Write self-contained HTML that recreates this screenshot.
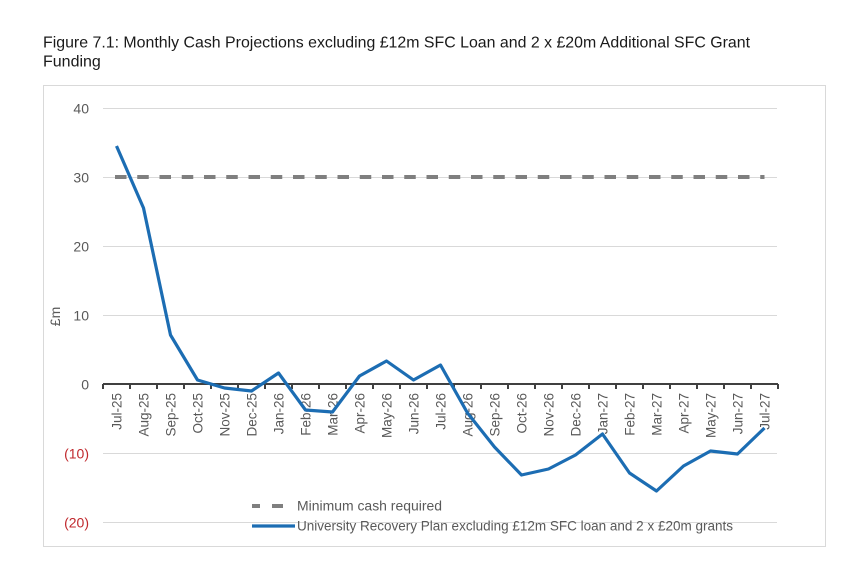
<!DOCTYPE html>
<html><head><meta charset="utf-8"><style>
html,body{margin:0;padding:0;background:#fff;}
svg{display:block;}
text{font-family:"Liberation Sans",Arial,sans-serif;}
</style></head><body>
<svg width="863" height="564" viewBox="0 0 863 564" xmlns="http://www.w3.org/2000/svg">
<rect width="863" height="564" fill="#fff"/>
<text x="43" y="47.5" font-size="16" fill="#1a1a1a" textLength="707" lengthAdjust="spacingAndGlyphs">Figure 7.1: Monthly Cash Projections excluding £12m SFC Loan and 2 x £20m Additional SFC Grant</text>
<text x="43" y="66.5" font-size="16" fill="#1a1a1a">Funding</text>
<rect x="43.5" y="85.5" width="782" height="461" fill="#fff" stroke="#d9d9d9" stroke-width="1"/>
<g stroke="#d9d9d9" stroke-width="1">
<line x1="103" y1="108.5" x2="777" y2="108.5"/>
<line x1="103" y1="177.5" x2="777" y2="177.5"/>
<line x1="103" y1="246.5" x2="777" y2="246.5"/>
<line x1="103" y1="315.5" x2="777" y2="315.5"/>
<line x1="103" y1="453.5" x2="777" y2="453.5"/>
<line x1="103" y1="522.5" x2="777" y2="522.5"/>
</g>
<g font-size="14" fill="#595959" text-anchor="end">
<text x="89" y="113.5">40</text>
<text x="89" y="182.5">30</text>
<text x="89" y="251.5">20</text>
<text x="89" y="320.5">10</text>
<text x="89" y="389.5">0</text>
<text x="89" y="458.5" fill="#c0282d">(10)</text>
<text x="89" y="527.5" fill="#c0282d">(20)</text>
</g>
<text transform="translate(60,316.5) rotate(-90)" font-size="14" fill="#595959" text-anchor="middle">£m</text>
<line x1="115" y1="177" x2="764.5" y2="177" stroke="#7f7f7f" stroke-width="4" stroke-dasharray="11.5 10.75"/>
<line x1="103" y1="384" x2="778" y2="384" stroke="#404040" stroke-width="2"/>
<g stroke="#404040" stroke-width="2">
<line x1="103" y1="384" x2="103" y2="389"/><line x1="130" y1="384" x2="130" y2="389"/><line x1="157" y1="384" x2="157" y2="389"/><line x1="184" y1="384" x2="184" y2="389"/><line x1="211" y1="384" x2="211" y2="389"/><line x1="238" y1="384" x2="238" y2="389"/><line x1="265" y1="384" x2="265" y2="389"/><line x1="292" y1="384" x2="292" y2="389"/><line x1="319" y1="384" x2="319" y2="389"/><line x1="346" y1="384" x2="346" y2="389"/><line x1="373" y1="384" x2="373" y2="389"/><line x1="400" y1="384" x2="400" y2="389"/><line x1="427" y1="384" x2="427" y2="389"/><line x1="454" y1="384" x2="454" y2="389"/><line x1="481" y1="384" x2="481" y2="389"/><line x1="508" y1="384" x2="508" y2="389"/><line x1="535" y1="384" x2="535" y2="389"/><line x1="562" y1="384" x2="562" y2="389"/><line x1="589" y1="384" x2="589" y2="389"/><line x1="616" y1="384" x2="616" y2="389"/><line x1="643" y1="384" x2="643" y2="389"/><line x1="670" y1="384" x2="670" y2="389"/><line x1="697" y1="384" x2="697" y2="389"/><line x1="724" y1="384" x2="724" y2="389"/><line x1="751" y1="384" x2="751" y2="389"/><line x1="778" y1="384" x2="778" y2="389"/>
</g>
<g font-size="13.5" fill="#595959" text-anchor="end">
<text transform="translate(121.5,393) rotate(-90)">Jul-25</text>
<text transform="translate(148.5,393) rotate(-90)">Aug-25</text>
<text transform="translate(175.5,393) rotate(-90)">Sep-25</text>
<text transform="translate(202.5,393) rotate(-90)">Oct-25</text>
<text transform="translate(229.5,393) rotate(-90)">Nov-25</text>
<text transform="translate(256.5,393) rotate(-90)">Dec-25</text>
<text transform="translate(283.5,393) rotate(-90)">Jan-26</text>
<text transform="translate(310.5,393) rotate(-90)">Feb-26</text>
<text transform="translate(337.5,393) rotate(-90)">Mar-26</text>
<text transform="translate(364.5,393) rotate(-90)">Apr-26</text>
<text transform="translate(391.5,393) rotate(-90)">May-26</text>
<text transform="translate(418.5,393) rotate(-90)">Jun-26</text>
<text transform="translate(445.5,393) rotate(-90)">Jul-26</text>
<text transform="translate(472.5,393) rotate(-90)">Aug-26</text>
<text transform="translate(499.5,393) rotate(-90)">Sep-26</text>
<text transform="translate(526.5,393) rotate(-90)">Oct-26</text>
<text transform="translate(553.5,393) rotate(-90)">Nov-26</text>
<text transform="translate(580.5,393) rotate(-90)">Dec-26</text>
<text transform="translate(607.5,393) rotate(-90)">Jan-27</text>
<text transform="translate(634.5,393) rotate(-90)">Feb-27</text>
<text transform="translate(661.5,393) rotate(-90)">Mar-27</text>
<text transform="translate(688.5,393) rotate(-90)">Apr-27</text>
<text transform="translate(715.5,393) rotate(-90)">May-27</text>
<text transform="translate(742.5,393) rotate(-90)">Jun-27</text>
<text transform="translate(769.5,393) rotate(-90)">Jul-27</text>
</g>
<polyline fill="none" stroke="#1c6db3" stroke-width="3.2" stroke-linejoin="round" stroke-linecap="butt" points="116.5,146 143.5,208 170.5,335 197.5,380 224.5,388 251.5,391 278.5,373 305.5,410 332.5,412 359.5,376 386.5,361 413.5,380 440.5,365 467.5,413 494.5,447 521.5,475 548.5,469 575.5,455 602.5,434 629.5,473 656.5,491 683.5,466 710.5,451 737.5,454 764.5,428"/>
<g>
<line x1="252" y1="506" x2="260" y2="506" stroke="#7f7f7f" stroke-width="4"/>
<line x1="272" y1="506" x2="283" y2="506" stroke="#7f7f7f" stroke-width="4"/>
<text x="297" y="510.5" font-size="13.5" fill="#595959" textLength="145" lengthAdjust="spacingAndGlyphs">Minimum cash required</text>
<line x1="252" y1="526" x2="295" y2="526" stroke="#1c6db3" stroke-width="3.2"/>
<text x="297" y="530.5" font-size="13.5" fill="#595959" textLength="436" lengthAdjust="spacingAndGlyphs">University Recovery Plan excluding £12m SFC loan and 2 x £20m grants</text>
</g>
</svg>
</body></html>
